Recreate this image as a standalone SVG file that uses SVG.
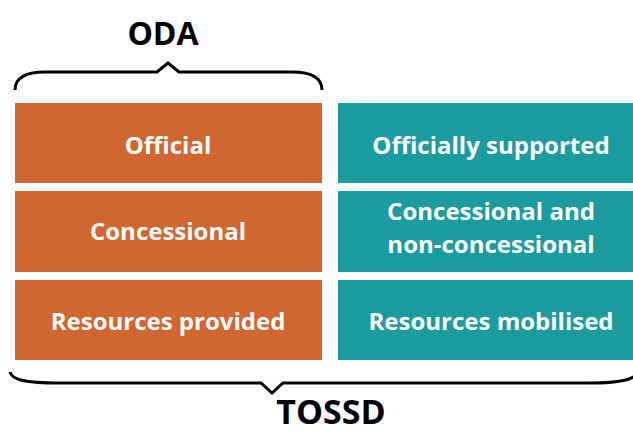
<svg xmlns="http://www.w3.org/2000/svg" width="633" height="434" viewBox="0 0 633 434">
<style>
.oda{fill:#D06631}
.tos{fill:#1C9B9E}
.t{font-family:"Open Sans","Liberation Sans",sans-serif;font-weight:bold;fill:#fff;font-size:24px;text-anchor:middle}
.h{font-family:"Open Sans","Liberation Sans",sans-serif;font-weight:bold;fill:#000;text-anchor:middle}
.brace{fill:none;stroke:#000;stroke-width:3}
</style>
<g id="label-oda"><text class="h" x="163" y="45" font-size="32">ODA</text></g>
<g id="label-tossd"><text class="h" x="331" y="424" font-size="34">TOSSD</text></g>
<g id="braces">
<path class="brace" d="M15,90 C15,78 25,72 45,72 L157,72 L168,63 L179,72 L292,72 C312,72 322,78 322,90"/>
<path class="brace" d="M10,372 C12,380 25,383 60,383 L261,383 L272,393 L283,383 L590,383 C620,383 633,380 640,372"/>
</g>
<g id="oda-official"><rect class="oda" x="15" y="103" width="307" height="80"/><text class="t" x="168" y="154">Official</text></g>
<g id="oda-concessional"><rect class="oda" x="15" y="191" width="307" height="81"/><text class="t" x="168" y="240">Concessional</text></g>
<g id="oda-resources"><rect class="oda" x="15" y="280" width="307" height="80"/><text class="t" x="168" y="330">Resources provided</text></g>
<g id="tossd-official"><rect class="tos" x="338" y="103" width="295" height="80"/><text class="t" x="491" y="154">Officially supported</text></g>
<g id="tossd-concessional"><rect class="tos" x="338" y="191" width="295" height="81"/><text class="t" x="491" y="220">Concessional and</text><text class="t" x="491" y="253">non-concessional</text></g>
<g id="tossd-resources"><rect class="tos" x="338" y="280" width="295" height="80"/><text class="t" x="491" y="330">Resources mobilised</text></g>
</svg>
